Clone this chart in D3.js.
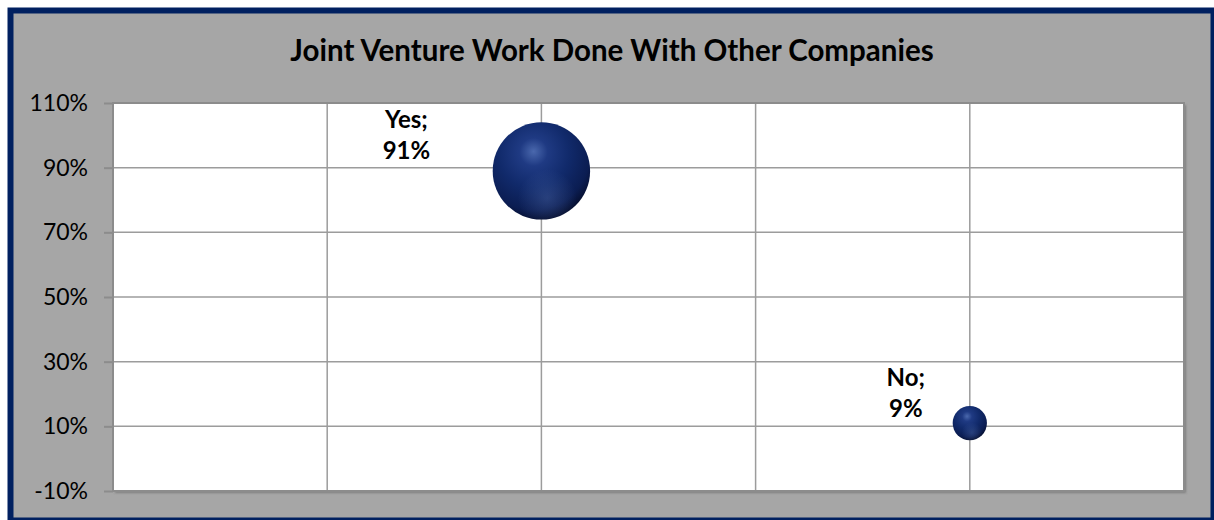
<!DOCTYPE html>
<html>
<head>
<meta charset="utf-8">
<script src="https://cdn.jsdelivr.net/npm/d3@7"></script>
<style>
  html, body { margin: 0; padding: 0; background: #ffffff; }
  svg { display: block; }
</style>
</head>
<body>
<div id="chart"></div>
<script>
// Chart data
const categories = ["Yes", "No"];
const xValues = [1, 2];
const yValues = [0.89, 0.11];
const bubbleSizes = [0.89, 0.11];
const labelValues = ["91%", "9%"];
const yTicks = [-0.1, 0.1, 0.3, 0.5, 0.7, 0.9, 1.1];
const xGrid = [0.5, 1, 1.5, 2];
const titleText = "Joint Venture Work Done With Other Companies";

const width = 1214;
const height = 520;

const svg = d3.select("#chart")
  .append("svg")
  .attr("width", width)
  .attr("height", height);

const defs = svg.append("defs");

// Sphere look for the bubbles
const sphere = defs.append("radialGradient")
  .attr("id", "sphere")
  .attr("cx", "0.42").attr("cy", "0.33").attr("r", "0.72")
  .attr("fx", "0.42").attr("fy", "0.3");
sphere.append("stop").attr("offset", "0").attr("stop-color", "#4a68ad");
sphere.append("stop").attr("offset", "0.2").attr("stop-color", "#1f3a83");
sphere.append("stop").attr("offset", "0.5").attr("stop-color", "#112a6b");
sphere.append("stop").attr("offset", "0.8").attr("stop-color", "#0b1d52");
sphere.append("stop").attr("offset", "1").attr("stop-color", "#040a24");

const glow = defs.append("radialGradient")
  .attr("id", "glow")
  .attr("cx", "0.56").attr("cy", "0.78").attr("r", "0.3");
glow.append("stop").attr("offset", "0").attr("stop-color", "#6583c4").attr("stop-opacity", 0.3);
glow.append("stop").attr("offset", "1").attr("stop-color", "#6583c4").attr("stop-opacity", 0);

const shadow = defs.append("filter").attr("id", "plotShadow")
  .attr("x", "-2%").attr("y", "-2%").attr("width", "104%").attr("height", "104%");
shadow.append("feDropShadow")
  .attr("dx", 2).attr("dy", 2).attr("stdDeviation", 1)
  .attr("flood-color", "#555").attr("flood-opacity", 0.5);

// Outer chart box
svg.append("rect")
  .attr("x", 10.5).attr("y", 10.5)
  .attr("width", 1203).attr("height", 510)
  .attr("fill", "#a6a6a6")
  .attr("stroke", "#002060")
  .attr("stroke-width", 6);

// Title
svg.append("text")
  .attr("x", 612)
  .attr("y", 61)
  .attr("text-anchor", "middle")
  .style("font-family", "Lato, 'Open Sans', sans-serif")
  .style("font-weight", "bold")
  .style("font-size", "29.5px")
  .style("fill", "#000")
  .text(titleText);

// Plot area
const plot = { left: 113, top: 103, right: 1184, bottom: 491 };

const x = d3.scaleLinear().domain([0, 2.5]).range([plot.left, plot.right]);
const y = d3.scaleLinear().domain([-0.1, 1.1]).range([plot.bottom, plot.top]);
const r = d3.scaleSqrt().domain([0, d3.max(bubbleSizes)]).range([0, 48.7]);

svg.append("rect")
  .attr("x", plot.left).attr("y", plot.top)
  .attr("width", plot.right - plot.left)
  .attr("height", plot.bottom - plot.top)
  .attr("fill", "#ffffff")
  .attr("filter", "url(#plotShadow)");

// Gridlines
const grid = svg.append("g").attr("class", "grid");
grid.selectAll(".hgrid")
  .data(yTicks)
  .enter()
  .append("line")
  .attr("x1", plot.left).attr("x2", plot.right)
  .attr("y1", d => y(d)).attr("y2", d => y(d))
  .attr("stroke", "#9c9c9c")
  .attr("stroke-width", 1.5);

grid.selectAll(".vgrid")
  .data(xGrid)
  .enter()
  .append("line")
  .attr("x1", d => x(d)).attr("x2", d => x(d))
  .attr("y1", plot.top).attr("y2", plot.bottom)
  .attr("stroke", "#9c9c9c")
  .attr("stroke-width", 1.5);

// Plot border
svg.append("rect")
  .attr("x", plot.left).attr("y", plot.top)
  .attr("width", plot.right - plot.left)
  .attr("height", plot.bottom - plot.top)
  .attr("fill", "none")
  .attr("stroke", "#8c8c8c")
  .attr("stroke-width", 2);

// Y axis
const yAxis = d3.axisLeft(y)
  .tickValues(yTicks)
  .tickSize(9)
  .tickPadding(16)
  .tickFormat(d => Math.round(d * 100) + "%");

const yAxisG = svg.append("g")
  .attr("transform", `translate(${plot.left},0)`)
  .call(yAxis);

yAxisG.select(".domain").remove();
yAxisG.selectAll(".tick line")
  .attr("stroke", "#8c8c8c")
  .attr("stroke-width", 2);
yAxisG.selectAll(".tick text")
  .style("font-family", "Lato, 'Open Sans', sans-serif")
  .style("font-size", "23px")
  .style("fill", "#000");

// Bubbles
const points = categories.map((c, i) => ({
  label: c,
  x: xValues[i],
  y: yValues[i],
  size: bubbleSizes[i],
  text: labelValues[i]
}));

const bubbles = svg.append("g").attr("class", "bubbles")
  .selectAll("g")
  .data(points)
  .enter()
  .append("g");

bubbles.append("circle")
  .attr("cx", d => x(d.x))
  .attr("cy", d => y(d.y))
  .attr("r", d => r(d.size))
  .attr("fill", "url(#sphere)");

bubbles.append("circle")
  .attr("cx", d => x(d.x))
  .attr("cy", d => y(d.y))
  .attr("r", d => r(d.size))
  .attr("fill", "url(#glow)");

// Data labels (manually nudged up-left of each bubble, as in the original)
const labelNudge = { Yes: [-135, -43], No: [-64, -37] };

const labels = bubbles.append("text")
  .attr("text-anchor", "middle")
  .style("font-family", "Lato, 'Open Sans', sans-serif")
  .style("font-weight", "bold")
  .style("font-size", "24px")
  .style("fill", "#000");

labels.append("tspan")
  .attr("x", d => x(d.x) + labelNudge[d.label][0])
  .attr("y", d => y(d.y) + labelNudge[d.label][1])
  .text(d => d.label + ";");

labels.append("tspan")
  .attr("x", d => x(d.x) + labelNudge[d.label][0])
  .attr("dy", 31)
  .text(d => d.text);
</script>
</body>
</html>
